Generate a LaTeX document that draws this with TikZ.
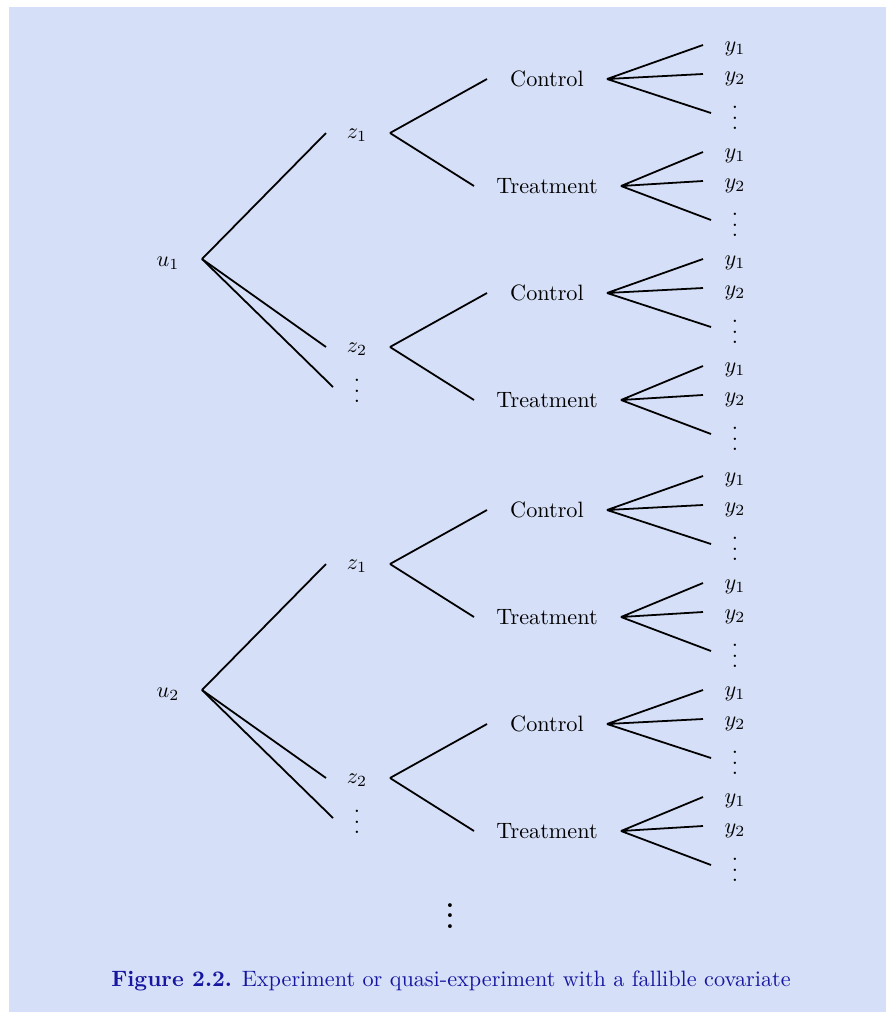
\documentclass[tikz,border=0pt]{standalone}
\usepackage{amsmath}
\definecolor{panel}{RGB}{213,223,247}
\definecolor{capblue}{RGB}{22,22,160}
\newcommand\myvdots{\vbox{\baselineskip4.7pt\lineskiplimit0pt\hbox{.}\hbox{.}\hbox{.}}}
\newcommand\bigvdots{\vbox{\baselineskip4.7pt\lineskiplimit0pt\hbox{\bfseries .}\hbox{\bfseries .}\hbox{\bfseries .}}}
\tikzset{
  lbl/.style={inner sep=0pt,font=\fontsize{10}{12}\selectfont},
  edge/.style={line width=0.8pt,black},
}
\newcommand\leafset[3]{%
  \coordinate (#1o) at (#2,#3);
  \coordinate (#1e1) at (703,#3-34);
  \coordinate (#1e2) at (703,#3-5);
  \coordinate (#1e3) at (711,#3+34);
  \node[lbl,anchor=base] (#1y1) at (735,#3-28) {$y_1$};
  \node[lbl,anchor=base] (#1y2) at (735,#3+2) {$y_2$};
  \node[lbl] (#1yd) at (735,#3+39) {\myvdots};
  \draw[edge] (#1o) -- (#1e1) (#1o) -- (#1e2) (#1o) -- (#1e3);
}
\begin{document}
\begin{tikzpicture}[x=0.45pt,y=-0.45pt]
\useasboundingbox (0,0) rectangle (886,1012);
\fill[panel] (9,7) rectangle (886,1012);
\foreach \u/\U in {1/0,2/431} {
  \node[lbl,anchor=base] (u\u) at (168,266+\U) {$u_{\u}$};
  \coordinate (u\u b) at (202,259+\U);
  \coordinate (u\u dots in) at (333,387+\U);
  \node[lbl] (u\u zd) at (357,391+\U) {\myvdots};
  \draw[edge] (u\u b) -- (u\u dots in);
  \foreach \z/\Z in {1/133,2/347} {
    \pgfmathsetmacro\zy{\Z+\U}
    \pgfmathsetmacro\cy{\zy-54}
    \pgfmathsetmacro\ty{\zy+53}
    \node[lbl,anchor=base] (z\u\z) at (357,\zy+5) {$z_{\z}$};
    \coordinate (z\u\z in) at (326,\zy);
    \coordinate (z\u\z out) at (390,\zy);
    \draw[edge] (u\u b) -- (z\u\z in);
    \node[lbl,anchor=base] (c\u\z) at (547,\cy+7) {Control};
    \coordinate (c\u\z in) at (487,\cy);
    \node[lbl,anchor=base] (t\u\z) at (547,\ty+7) {Treatment};
    \coordinate (t\u\z in) at (474,\ty);
    \draw[edge] (z\u\z out) -- (c\u\z in) (z\u\z out) -- (t\u\z in);
    \leafset{c\u\z}{607}{\cy}
    \leafset{t\u\z}{621}{\ty}
  }
}
\node[lbl,font=\fontsize{12}{14}\selectfont] (more) at (450,916) {\bigvdots};
\node[lbl,anchor=base,text=capblue] (cap) at (451,986) {{\bfseries Figure 2.2.} Experiment or quasi-experiment with a fallible covariate};
\end{tikzpicture}
\end{document}
